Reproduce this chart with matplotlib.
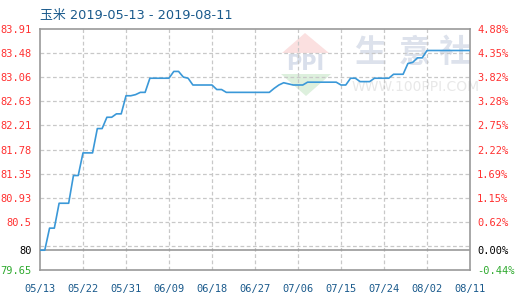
import matplotlib
matplotlib.use("Agg")
import matplotlib.pyplot as plt
import numpy as np
from matplotlib.patches import Polygon

title = "玉米 2019-05-13 - 2019-08-11"
start_date = "2019-05-13"
values = [80.00, 80.00, 80.39, 80.39, 80.83, 80.83, 80.83, 81.32, 81.32, 81.72,
          81.72, 81.72, 82.15, 82.15, 82.35, 82.35, 82.41, 82.41, 82.73, 82.73,
          82.75, 82.79, 82.79, 83.04, 83.04, 83.04, 83.04, 83.04, 83.16, 83.16,
          83.06, 83.04, 82.92, 82.92, 82.92, 82.92, 82.92, 82.84, 82.84, 82.79,
          82.79, 82.79, 82.79, 82.79, 82.79, 82.79, 82.79, 82.79, 82.79, 82.86,
          82.92, 82.96, 82.94, 82.92, 82.92, 82.92, 82.97, 82.97, 82.97, 82.97,
          82.97, 82.97, 82.97, 82.92, 82.92, 83.04, 83.04, 82.98, 82.98, 82.98,
          83.04, 83.04, 83.04, 83.04, 83.11, 83.11, 83.11, 83.30, 83.32, 83.40,
          83.40, 83.53, 83.53, 83.53, 83.53, 83.53, 83.53, 83.53, 83.53, 83.53,
          83.53]
left_ticks = [83.91, 83.48, 83.06, 82.63, 82.21, 81.78, 81.35, 80.93, 80.5, 80, 79.65]
left_labels = ["83.91", "83.48", "83.06", "82.63", "82.21", "81.78", "81.35", "80.93", "80.5", "80", "79.65"]
right_labels = ["4.88%", "4.35%", "3.82%", "3.28%", "2.75%", "2.22%", "1.69%", "1.15%", "0.62%", "0.00%", "-0.44%"]
x_labels = ["05/13", "05/22", "05/31", "06/09", "06/18", "06/27", "07/06", "07/15", "07/24", "08/02", "08/11"]

dates = np.arange(np.datetime64(start_date), np.datetime64(start_date) + len(values))
days = np.arange(len(values))
base = values[0]
ymin, ymax = left_ticks[-1], left_ticks[0]

RED = "#ff3030"
GREEN = "#2eaa2e"
BLUE_TXT = "#1a5a8c"
GRID = "#c8c8c8"
AXIS = "#999999"

fig = plt.figure(figsize=(5.2, 3.0), dpi=100)
W, H = 520, 300
L, R, T, B = 40, 470, 29, 270
ax = fig.add_axes([L / W, 1 - B / H, (R - L) / W, (B - T) / H])
ax.set_xlim(days[0], days[-1])
ax.set_ylim(ymin, ymax)

# watermark (axes coords)
def axc(px, py):
    return ((px - L) / (R - L), (B - py) / (B - T))

wm = dict(transform=ax.transAxes, zorder=0.5)
for ch, cx in zip("生意社", [370, 415, 455]):
    ax.text(*axc(cx, 53), ch, fontsize=23, color="#dde2ec", ha="center", va="center",
            family=["Noto Sans CJK SC"], fontweight="bold", **wm)
ax.text(*axc(416, 87), "WWW.100PPI.COM", fontsize=10, color="#e8e8e8", ha="center", va="center",
        family=["DejaVu Sans"], **wm)
ax.add_patch(Polygon([axc(305, 33), axc(282, 53), axc(329, 53)], closed=True,
                     facecolor="#fbe0e0", edgecolor="none", **wm))
ax.add_patch(Polygon([axc(281, 74), axc(331, 74), axc(306, 96)], closed=True,
                     facecolor="#ddf0dd", edgecolor="none", **wm))
ax.text(*axc(305, 64), "PPI", fontsize=15, color="#d9dfeb", ha="center", va="center",
        family=["DejaVu Sans"], fontweight="bold", **wm)

# grid
grid_levels = np.linspace(ymax, ymin, 11)[1:-1]
for g in grid_levels:
    ax.axhline(g, color=GRID, lw=0.9, ls=(0, (3, 2)), zorder=1)
tick_days = np.arange(0, len(values), 9)
for d in tick_days[1:-1]:
    ax.axvline(d, color=GRID, lw=0.9, ls=(0, (3, 2)), zorder=1)
ax.axhline(base, color=AXIS, lw=1.2, zorder=2)

ax.plot(days, values, color="#3a98d8", lw=1.2, zorder=3)

for s in ax.spines.values():
    s.set_color(AXIS)
    s.set_linewidth(1.2)

mono = ["DejaVu Sans Mono"]
ax.set_yticks(left_ticks)
ax.set_yticklabels(left_labels, family=mono, fontsize=7.5)
for lbl, v in zip(ax.get_yticklabels(), left_ticks):
    lbl.set_color("black" if v == base else (GREEN if v < base else RED))
ax.tick_params(axis="y", length=0, pad=6)

ax.set_xticks(tick_days)
ax.set_xticklabels(x_labels, family=mono, fontsize=7.5, color=BLUE_TXT)
ax.tick_params(axis="x", length=0, pad=10)

ax2 = ax.twinx()
ax2.set_ylim(ymin, ymax)
ax2.set_yticks(left_ticks)
ax2.set_yticklabels(right_labels, family=mono, fontsize=7.5)
for lbl, v in zip(ax2.get_yticklabels(), left_ticks):
    lbl.set_color("black" if v == base else (GREEN if v < base else RED))
ax2.tick_params(axis="y", length=0, pad=5)
for s in ax2.spines.values():
    s.set_visible(False)

fig.text(L / W, 1 - 15 / H, title, fontsize=9.3, color=BLUE_TXT, va="center", ha="left",
         family=["DejaVu Sans", "Noto Sans CJK SC"])

fig.savefig("out.png", dpi=100)
